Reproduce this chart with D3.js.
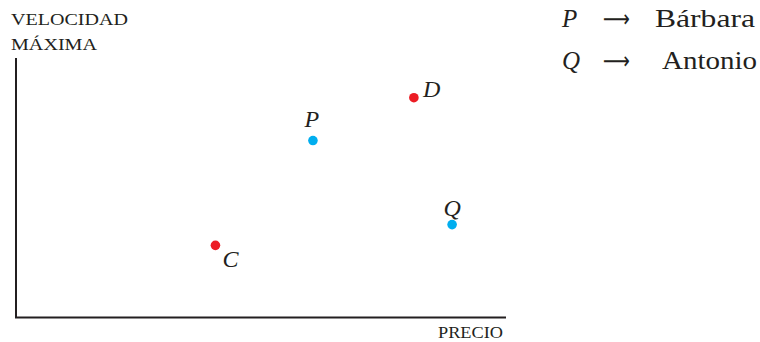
<!DOCTYPE html>
<html>
<head>
<meta charset="utf-8">
<script src="https://cdn.jsdelivr.net/npm/d3@7"></script>
<style>
  html, body { margin: 0; padding: 0; background: #fff; }
  svg { display: block; }
  text { font-family: "Liberation Serif", "DejaVu Serif", serif; fill: #231f20; }
</style>
</head>
<body>
<svg id="chart" width="760" height="342"></svg>
<script>
// Points on the price / top-speed plane
const names = ["C", "P", "D", "Q"];
const precio = [40.7, 60.6, 81.2, 89.0];
const velocidad = [27.8, 68.2, 84.7, 35.8];
const groups = ["rojo", "azul", "rojo", "azul"];

// Legend rows
const legendKeys = ["P", "Q"];
const legendNames = ["Bárbara", "Antonio"];

const svg = d3.select("#chart");

const x = d3.scaleLinear().domain([0, 100]).range([16, 506]);
const y = d3.scaleLinear().domain([0, 100]).range([317.5, 58]);
const color = d3.scaleOrdinal().domain(["rojo", "azul"]).range(["#ec1c24", "#00aeef"]);

// Axes (plain lines, no ticks)
svg.append("path")
  .attr("d", `M${x(0)},${y(100)}V${y(0)}H${x(100)}`)
  .attr("fill", "none")
  .attr("stroke", "#231f20")
  .attr("stroke-width", 2);

function label(txt, px, py, size, len, anchor) {
  return svg.append("text")
    .attr("x", px).attr("y", py)
    .attr("font-size", size)
    .attr("text-anchor", anchor || "start")
    .attr("textLength", len)
    .attr("lengthAdjust", "spacingAndGlyphs")
    .text(txt);
}

label("VELOCIDAD", 11, 24.5, 17, 117);
label("MÁXIMA", 11, 49.5, 17, 86);
label("PRECIO", 438, 337.5, 17, 65);

// Label placement per point
const labelOffset = {
  C: [7, 22, "start"],
  P: [-1, -13.5, "middle"],
  D: [9, -0.5, "start"],
  Q: [0, -8.5, "middle"]
};

const pts = names.map((n, i) => ({ n, px: precio[i], vy: velocidad[i], g: groups[i] }));

svg.selectAll("circle.pt")
  .data(pts)
  .join("circle")
  .attr("class", "pt")
  .attr("cx", d => x(d.px))
  .attr("cy", d => y(d.vy))
  .attr("r", 4.8)
  .attr("fill", d => color(d.g));

svg.selectAll("text.lbl")
  .data(pts)
  .join("text")
  .attr("class", "lbl")
  .attr("x", d => x(d.px) + labelOffset[d.n][0])
  .attr("y", d => y(d.vy) + labelOffset[d.n][1])
  .attr("text-anchor", d => labelOffset[d.n][2])
  .attr("font-size", 24)
  .attr("font-style", "italic")
  .text(d => d.n);

// Legend
const leg = svg.selectAll("g.leg")
  .data(legendKeys.map((k, i) => ({ k, name: legendNames[i] })))
  .join("g")
  .attr("class", "leg")
  .attr("transform", (d, i) => `translate(0,${27 + i * 42})`);

leg.append("text").attr("x", 562).attr("font-size", 25).attr("font-style", "italic").text(d => d.k);
leg.append("text")
  .attr("x", 603).attr("y", -7)
  .attr("font-size", 24)
  .style("font-family", "'DejaVu Sans', sans-serif")
  .attr("textLength", 27)
  .attr("lengthAdjust", "spacingAndGlyphs")
  .attr("dominant-baseline", "middle")
  .text("⟶");
leg.append("text")
  .attr("x", d => d.k === "P" ? 655 : 662)
  .attr("font-size", 25)
  .attr("textLength", d => d.k === "P" ? 100 : 95)
  .attr("lengthAdjust", "spacingAndGlyphs")
  .text(d => d.name);
</script>
</body>
</html>
